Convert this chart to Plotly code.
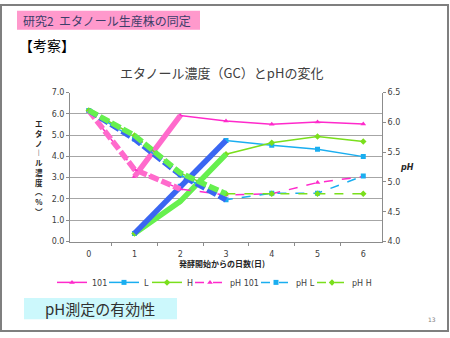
import plotly.graph_objects as go

# Days since the start of fermentation
days = ["0", "1", "2", "3", "4", "5", "6"]

# Ethanol concentration (%) measured by GC, left axis
eth_101 = [None, 3.05, 5.92, 5.66, 5.51, 5.62, 5.52]
eth_L = [None, 0.38, 2.60, 4.75, 4.52, 4.34, 3.99]
eth_H = [None, 0.38, 1.89, 4.10, 4.64, 4.93, 4.70]

# pH of the culture, right axis
ph_101 = [6.20, 5.21, 4.88, 4.78, 4.80, 4.99, 5.09]
ph_L = [6.20, 5.72, 5.12, 4.70, 4.81, 4.81, 5.10]
ph_H = [6.20, 5.78, 5.15, 4.80, 4.80, 4.80, 4.80]

left_ticks = [0, 1, 2, 3, 4, 5, 6, 7]
right_ticks = [4.0, 4.5, 5.0, 5.5, 6.0, 6.5]

PINK, BLUE, GREEN = "#FF2ACB", "#1AAEF0", "#7ADF1C"
PINK_HI, BLUE_HI, GREEN_HI = "#FF6ACC", "#3A66F2", "#66F04E"
NUM_FONT = "DejaVu Sans"
JP_FONT = "Noto Sans CJK JP"

def px(x):
    return x / 450

def py(y):
    return (338 - y) / 338

fig = go.Figure()

# Thin series, each with its own legend box laid out along one row
series = [
    ("101", eth_101, PINK, "triangle-up", "solid", "y", 60),
    ("L", eth_L, BLUE, "square", "solid", "y", 112),
    ("H", eth_H, GREEN, "diamond", "solid", "y", 155),
    ("pH 101", ph_101, PINK, "triangle-up", "dash", "y2", 198),
    ("pH L", ph_L, BLUE, "square", "dash", "y2", 264),
    ("pH H", ph_H, GREEN, "diamond", "dash", "y2", 320),
]
legend_cfg = {}
for i, (name, vals, col, sym, dash, ax, lx) in enumerate(series):
    key = "legend" if i == 0 else f"legend{i + 1}"
    fig.add_trace(go.Scatter(
        x=days, y=vals, name=name, yaxis=ax, mode="lines+markers",
        line=dict(color=col, width=1.5, dash=dash),
        marker=dict(color=col, symbol=sym, size=5),
        connectgaps=False, legend=key,
    ))
    legend_cfg[key] = dict(
        x=px(lx - 8), xanchor="left", y=py(286), yanchor="middle",
        orientation="h", itemwidth=30, bgcolor="rgba(0,0,0,0)",
        font=dict(family=NUM_FONT, size=8, color="#404040"),
    )

# Thick emphasis strokes over the early part of each curve
highlights = [
    (days[1:3], eth_101[1:3], PINK_HI, "solid", "y"),
    (days[1:4], eth_H[1:4], GREEN_HI, "solid", "y"),
    (days[1:4], eth_L[1:4], BLUE_HI, "solid", "y"),
    (days[0:3], ph_101[0:3], PINK_HI, "10px,3px", "y2"),
    (days[0:4], ph_L[0:4], BLUE_HI, "10px,3px", "y2"),
    (days[0:4], ph_H[0:4], GREEN_HI, "10px,3px", "y2"),
]
for xs, ys, col, dash, ax in highlights:
    fig.add_trace(go.Scatter(
        x=xs, y=ys, yaxis=ax, mode="lines", showlegend=False, hoverinfo="skip",
        line=dict(color=col, width=5.5, dash=dash),
    ))

X0, X1 = 70 / 450, 382 / 450
Y0, Y1 = (338 - 244) / 338, (338 - 91) / 338

tick_font = dict(family=NUM_FONT, size=8, color="#404040")

fig.update_layout(
    width=450, height=338,
    margin=dict(l=0, r=0, t=0, b=0),
    paper_bgcolor="white", plot_bgcolor="white",
    xaxis=dict(
        domain=[X0, X1], type="category", tickson="boundaries",
        ticks="outside", ticklen=3, tickcolor="#8C8C8C", ticklabelstandoff=5,
        showline=True, linecolor="#8C8C8C", linewidth=1,
        showgrid=False, tickfont=tick_font, fixedrange=True,
    ),
    yaxis=dict(
        domain=[Y0, Y1], range=[0, 7], tickvals=left_ticks, tickformat=".1f",
        ticks="outside", ticklen=3, tickcolor="#8C8C8C",
        showline=True, linecolor="#8C8C8C", linewidth=1,
        showgrid=True, gridcolor="#A6A6A6", gridwidth=1.3, zeroline=False,
        tickfont=tick_font,
    ),
    yaxis2=dict(
        overlaying="y", side="right", anchor="x", range=[4, 6.5],
        tickvals=right_ticks, tickformat=".1f",
        ticks="outside", ticklen=3, tickcolor="#8C8C8C",
        showline=True, linecolor="#8C8C8C", linewidth=1,
        showgrid=False, zeroline=False, tickfont=tick_font,
    ),
    showlegend=True,
    **legend_cfg,
)

shapes = [
    # slide frame
    dict(type="rect", xref="paper", yref="paper", x0=px(1), x1=px(448), y0=py(1), y1=py(336),
         line=dict(color="#7F7F7F", width=2), fillcolor="rgba(0,0,0,0)", layer="below"),
    # heading box
    dict(type="rect", xref="paper", yref="paper", x0=px(17), x1=px(200), y0=py(7), y1=py(26.5),
         line=dict(width=0), fillcolor="#FF99CC", layer="below"),
    # conclusion box
    dict(type="rect", xref="paper", yref="paper", x0=px(24), x1=px(177), y0=py(302), y1=py(324),
         line=dict(width=0), fillcolor="#CCF8FC", layer="below"),
]
fig.update_layout(shapes=shapes)

ann = []
ann.append(dict(text="研究2  エタノール生産株の同定", x=px(21), y=py(17), xanchor="left",
                yanchor="middle", font=dict(family=JP_FONT, size=12, color="#3E3E6A")))
ann.append(dict(text="【考察】", x=px(17), y=py(42), xanchor="left", yanchor="middle",
                font=dict(family=JP_FONT, size=14, color="#000000")))
ann.append(dict(text="エタノール濃度（GC）とpHの変化", x=px(221), y=py(70), xanchor="center",
                yanchor="middle", font=dict(family=JP_FONT, size=13, color="#404040")))
ann.append(dict(text="<b>発酵開始からの日数(日)</b>", x=px(222), y=py(267), xanchor="center",
                yanchor="middle", font=dict(family=JP_FONT, size=8, color="#262626")))
ann.append(dict(text="<b><i>pH</i></b>", x=px(407), y=py(168), xanchor="center",
                yanchor="middle", font=dict(family=NUM_FONT, size=8, color="#262626")))
ann.append(dict(text="pH測定の有効性", x=px(100), y=py(313), xanchor="center",
                yanchor="middle", font=dict(family=JP_FONT, size=15, color="#303030")))
ann.append(dict(text="13", x=px(432), y=py(324), xanchor="center", yanchor="middle",
                font=dict(family=NUM_FONT, size=6, color="#808080")))

# left axis title written vertically (stacked upright characters)
v_title = "<br>".join(["エ", "タ", "ノ", "︱", "ル", "濃", "度", "︵", "%", "︶"])
ann.append(dict(text="<b>" + v_title + "</b>", x=px(39), y=py(168), xanchor="center",
                yanchor="middle", font=dict(family=JP_FONT, size=7.5, color="#262626")))

for a in ann:
    a.update(xref="paper", yref="paper", showarrow=False)
fig.update_layout(annotations=ann)

fig.write_html("out.html")
